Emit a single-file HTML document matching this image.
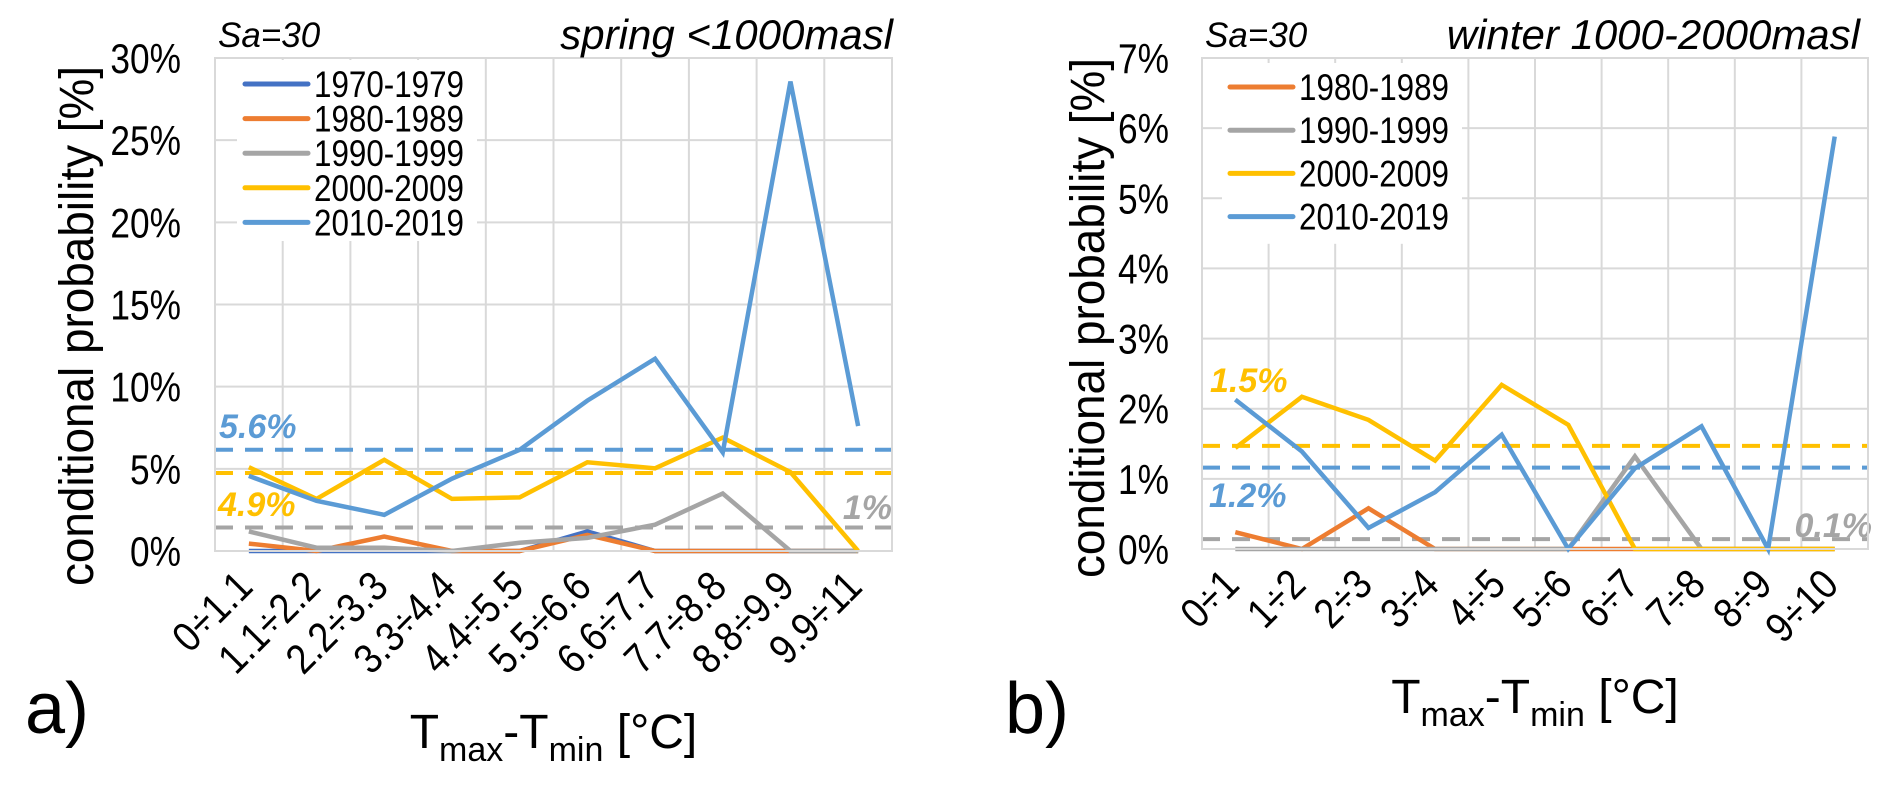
<!DOCTYPE html>
<html><head><meta charset="utf-8"><style>
html,body{margin:0;padding:0;background:#fff;}
svg{display:block;font-family:"Liberation Sans",Arial,sans-serif;}
</style></head><body>
<svg id="fig" width="1892" height="788" viewBox="0 0 1892 788" xmlns="http://www.w3.org/2000/svg"></svg>
<script>
// ---- Chart a data ----
const catsA = ["0÷1.1","1.1÷2.2","2.2÷3.3","3.3÷4.4","4.4÷5.5","5.5÷6.6","6.6÷7.7","7.7÷8.8","8.8÷9.9","9.9÷11"];
const ticksA = [0,5,10,15,20,25,30];
const a1970 = [0,0,0,0,0,1.19,0,0,0,0];
const a1980 = [0.45,0,0.88,0,0,0.98,0,0,0,0];
const a1990 = [1.19,0.2,0.2,0,0.5,0.8,1.6,3.5,0,0];
const a2000 = [5.1,3.17,5.55,3.17,3.26,5.4,5.03,6.9,4.8,0];
const a2010 = [4.57,3.05,2.2,4.4,6.16,9.15,11.7,6.0,28.57,7.6];
const meanA = [6.16,4.75,1.43];
const meanLabelsA = ["5.6%","4.9%","1%"];
// ---- Chart b data ----
const catsB = ["0÷1","1÷2","2÷3","3÷4","4÷5","5÷6","6÷7","7÷8","8÷9","9÷10"];
const ticksB = [0,1,2,3,4,5,6,7];
const b1980 = [0.24,0,0.58,0,0,0,0,0,0,0];
const b1990 = [0,0,0,0,0,0,1.32,0,0,0];
const b2000 = [1.44,2.17,1.84,1.26,2.34,1.77,0,0,0,0];
const b2010 = [2.13,1.39,0.3,0.81,1.63,0,1.15,1.75,0,5.88];
const meanB = [1.47,1.16,0.14];
const meanLabelsB = ["1.5%","1.2%","0.1%"];

const NS="http://www.w3.org/2000/svg";
const svg=document.getElementById('fig');
function mk(tag,attrs,parent,text){const e=document.createElementNS(NS,tag);for(const k in attrs)e.setAttribute(k,attrs[k]);if(text!==undefined)e.textContent=text;(parent||svg).appendChild(e);return e;}

function chart(cfg){
  const g=mk('g',{});
  
  
  const L=cfg.left,R=cfg.right,T=cfg.top,B=cfg.bottom,max=cfg.max,n=cfg.cats.length;
  const xs=i=>L+(R-L)/n*(i+0.5);
  const ys=v=>B-(B-T)*v/max;
  for(let i=0;i<=n;i++){const x=L+(R-L)/n*i;const l=mk('line',{x1:x,y1:T,x2:x,y2:B,stroke:'#d9d9d9','stroke-width':2},g);
    }
  cfg.ticks.forEach(t=>{const y=ys(t);const l=mk('line',{x1:L,y1:y,x2:R,y2:y,stroke:'#d9d9d9','stroke-width':2},g);
    
    const tx=mk('text',{x:0,y:0,'text-anchor':'end','font-size':42,fill:'#000',transform:`translate(${cfg.tickRight} ${y+15}) scale(0.84 1)`},g,t+'%');
    });
  const bg=mk('rect',{x:cfg.legX-8,y:cfg.legY-24,width:cfg.legW,height:cfg.legStep*cfg.series.length+8,fill:'#fff'},g);
  
  cfg.cats.forEach((c,i)=>{const x=xs(i)+6,y=B+38;
    const t=mk('text',{x:0,y:0,'text-anchor':'end','font-size':42,transform:`translate(${x} ${y}) rotate(-45) scale(0.88 1)`},g,c);
    });
  cfg.means.forEach((m,k)=>{const y=ys(m);
    const l=mk('line',{x1:L,y1:y,x2:R,y2:y,stroke:cfg.meanColors[k],'stroke-width':4,'stroke-dasharray':'18 12'},g);
    
    const p=cfg.meanLabelPos[k];
    const t=mk('text',{x:p[0],y:p[1],'text-anchor':p[2],'font-size':34,'font-weight':'bold','font-style':'italic',fill:cfg.meanColors[k]},g,cfg.meanLabels[k]);
    });
  cfg.series.forEach((s,k)=>{
    const pts=s.data.map((v,i)=>xs(i)+','+ys(v)).join(' ');
    const pl=mk('polyline',{points:pts,fill:'none',stroke:s.color,'stroke-width':4.5,'stroke-linejoin':'miter'},g);
    
    const ly=cfg.legY+k*cfg.legStep;
    const ll=mk('line',{x1:cfg.legX,y1:ly,x2:cfg.legX+63,y2:ly,stroke:s.color,'stroke-width':5,'stroke-linecap':'round'},g);
    
    const lt=mk('text',{x:cfg.legX+69,y:ly+13,'font-size':37,textLength:150,lengthAdjust:'spacingAndGlyphs'},g,s.label);
    
  });
  const br=mk('rect',{x:L,y:T,width:R-L,height:B-T,fill:'none',stroke:'#d9d9d9','stroke-width':2},g);
  
  const yt=mk('text',{x:cfg.yTitleX,y:cfg.yTitleY,'text-anchor':'middle','font-size':48,textLength:520,lengthAdjust:'spacingAndGlyphs',transform:`rotate(-90 ${cfg.yTitleX} ${cfg.yTitleY})`},g,'conditional probability [%]');
  
  const xt=mk('text',{x:(L+R)/2,y:cfg.xTitleY,'text-anchor':'middle','font-size':48},g);
  
  mk('tspan',{},xt,'T');mk('tspan',{'font-size':34,dy:13},xt,'max');mk('tspan',{dy:-13},xt,'-T');mk('tspan',{'font-size':34,dy:13},xt,'min');mk('tspan',{dy:-13},xt,' [°C]');
  const sa=mk('text',{x:L+3,y:47,'font-size':35,'font-style':'italic'},g,'Sa=30');
  
  const ct=mk('text',{x:cfg.titleRight,y:49,'text-anchor':'end','font-size':42,'font-style':'italic'},g,cfg.title);
  
  const pl=mk('text',{x:cfg.panelX,y:733,'font-size':72},g,cfg.panel);
  
}

chart({name:'chart-a',left:215,right:892,top:58,bottom:551,max:30,cats:catsA,ticks:ticksA,tickRight:181,
  series:[{label:'1970-1979',color:'#4472C4',data:a1970},{label:'1980-1989',color:'#ED7D31',data:a1980},
          {label:'1990-1999',color:'#A5A5A5',data:a1990},{label:'2000-2009',color:'#FFC000',data:a2000},
          {label:'2010-2019',color:'#5B9BD5',data:a2010}],
  legX:245,legY:84,legStep:34.6,legW:240,
  means:meanA,meanLabels:meanLabelsA,meanColors:['#5B9BD5','#FFC000','#A5A5A5'],
  meanLabelPos:[[219,438,'start'],[218,516,'start'],[892,519,'end']],
  yTitleX:93,yTitleY:326,xTitleY:748,title:'spring <1000masl',titleRight:893,panel:'a)',panelX:25});

chart({name:'chart-b',left:1202,right:1868,top:58,bottom:549,max:7,cats:catsB,ticks:ticksB,tickRight:1169,
  series:[{label:'1980-1989',color:'#ED7D31',data:b1980},{label:'1990-1999',color:'#A5A5A5',data:b1990},
          {label:'2000-2009',color:'#FFC000',data:b2000},{label:'2010-2019',color:'#5B9BD5',data:b2010}],
  legX:1230,legY:87,legStep:43.2,legW:240,
  means:meanB,meanLabels:meanLabelsB,meanColors:['#FFC000','#5B9BD5','#A5A5A5'],
  meanLabelPos:[[1210,392,'start'],[1209,507,'start'],[1872,537,'end']],
  yTitleX:1104,yTitleY:318,xTitleY:713,title:'winter 1000-2000masl',titleRight:1860,panel:'b)',panelX:1005});
</script>
</body></html>
